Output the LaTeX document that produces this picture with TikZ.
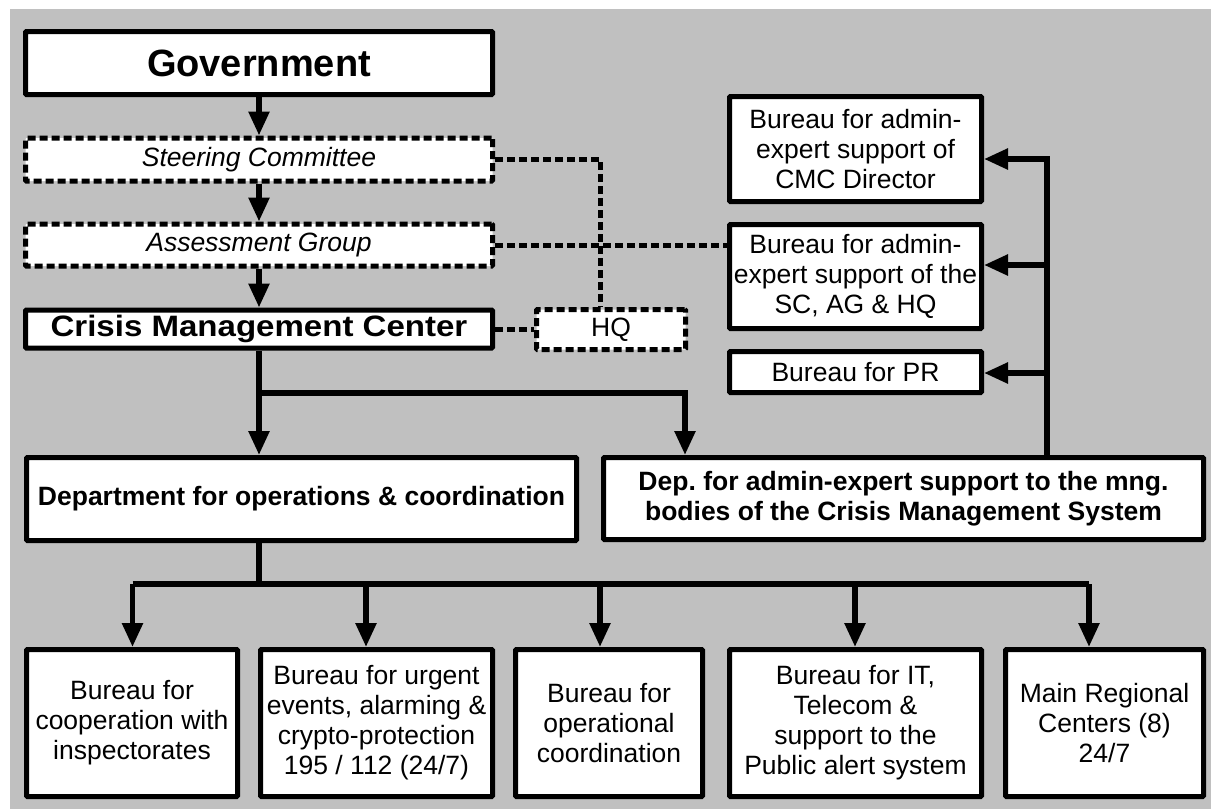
\documentclass[tikz,border=0pt]{standalone}
\usepackage{fontspec}
\setmainfont{Liberation Sans}
\newfontfamily\widefont[FakeStretch=1.12]{Liberation Sans}
\usetikzlibrary{arrows.meta,calc}
\definecolor{bg}{RGB}{192,192,192}
\frenchspacing
\tikzset{
 box/.style={draw=black, fill=white, line width=5pt, inner sep=0pt, align=center, rounded corners=1pt, font=\fontsize{26.5}{30}\selectfont},
 dbox/.style={box, dash pattern=on 8pt off 4pt},
 conn/.style={line width=5.5pt},
 arr/.style={conn, -{Triangle[length=24pt,width=20pt]}},
 dconn/.style={line width=5pt, dash pattern=on 8pt off 4pt},
}
\begin{document}
\begin{tikzpicture}[x=1pt,y=-1pt]
\useasboundingbox (0,0) rectangle (1211,809);
\fill[white] (0,0) rectangle (1211,809);
\fill[bg] (10,9) rectangle (1211,809);

% left column
\node[box, minimum width=467pt, minimum height=63pt, font=\bfseries\fontsize{38}{40}\selectfont] (gov) at (259,63) {Government};
\node[dbox, minimum width=467pt, minimum height=43pt, font=\itshape\fontsize{26.5}{30}\selectfont] (sc) at (259,159.5) {Steering Committee};
\node[dbox, minimum width=467pt, minimum height=42pt, font=\itshape\fontsize{26.5}{30}\selectfont] (ag) at (259,245) {Assessment Group};
\node[box, minimum width=467pt, minimum height=38pt, font=\widefont\bfseries\fontsize{29.5}{32}\selectfont] (cmc) at (259,329) {Crisis Management Center};
\node[dbox, minimum width=149pt, minimum height=40pt] (hq) at (611,329.5) {HQ};

% right column
\node[box, minimum width=252pt, minimum height=105pt] (b1) at (855.5,149) {Bureau for admin-\\expert support of\\CMC Director};
\node[box, minimum width=252pt, minimum height=104pt] (b2) at (855.5,276.5) {Bureau for admin-\\expert support of the\\SC, AG \& HQ};
\node[box, minimum width=252pt, minimum height=41pt] (pr) at (855.5,372) {Bureau for PR};

% departments
\node[box, minimum width=550pt, minimum height=83pt, font=\bfseries\fontsize{26.5}{30}\selectfont] (dep1) at (301.5,499) {Department for operations \& coordination};
\node[box, minimum width=600pt, minimum height=82pt, font=\bfseries\fontsize{26.5}{30}\selectfont] (dep2) at (903.5,498.5) {Dep. for admin-expert support to the mng.\\bodies of the Crisis Management System};

% bottom row
\node[box, minimum width=211pt, minimum height=147pt] (ba) at (132,723) {Bureau for\\cooperation with\\inspectorates};
\node[box, minimum width=232pt, minimum height=147pt] (bb) at (376.5,723) {Bureau for urgent\\events, alarming \&\\crypto-protection\\195 / 112 (24/7)};
\node[box, minimum width=187pt, minimum height=147pt] (bc) at (609,723) {Bureau for\\operational\\coordination};
\node[box, minimum width=252pt, minimum height=147pt] (bd) at (855.5,723) {Bureau for IT,\\Telecom \&\\support to the\\Public alert system};
\node[box, minimum width=198pt, minimum height=147pt] (be) at (1104.5,723) {Main Regional\\Centers (8)\\24/7};

% vertical chain
\draw[arr] (gov) -- (sc);
\draw[arr] (sc) -- (ag);
\draw[arr] (ag.south) -- (ag.south |- cmc.north);

% CMC to departments
\coordinate (j1) at (259,393);
\coordinate (j2) at (685,393);
\draw[arr] (cmc.south) -- (cmc.south |- dep1.north);
\draw[arr] (j1) -- (j2) -- (j2 |- dep2.north);

% dashed links
\coordinate (d1) at (600,159);
\draw[dconn] (sc.east |- d1) -- (d1) -- (d1 |- hq.north);
\draw[dconn] (ag.east) -- (ag.east -| b2.west);
\draw[dconn] (cmc.east) -- (cmc.east -| hq.west);

% right spine
\coordinate (s1) at (1047,159);
\coordinate (s2) at (1047,265);
\coordinate (s3) at (1047,373);
\draw[arr] (s1 |- dep2.north) -- (s1) -- (s1 -| b1.east);
\draw[arr] (s2) -- (s2 -| b2.east);
\draw[arr] (s3) -- (s3 -| pr.east);

% department 1 to bureaus
\coordinate (k) at (259,584);
\coordinate (ka) at (132.5,584);
\coordinate (kb) at (366,584);
\coordinate (kc) at (600,584);
\coordinate (kd) at (855,584);
\coordinate (ke) at (1089,584);
\draw[conn] (k |- dep1.south) -- (k);
\draw[conn] (ka) -- (ke);
\draw[arr] (ka) -- (ka |- ba.north);
\draw[arr] (kb) -- (kb |- bb.north);
\draw[arr] (kc) -- (kc |- bc.north);
\draw[arr] (kd) -- (kd |- bd.north);
\draw[arr] (ke) -- (ke |- be.north);
\end{tikzpicture}
\end{document}
